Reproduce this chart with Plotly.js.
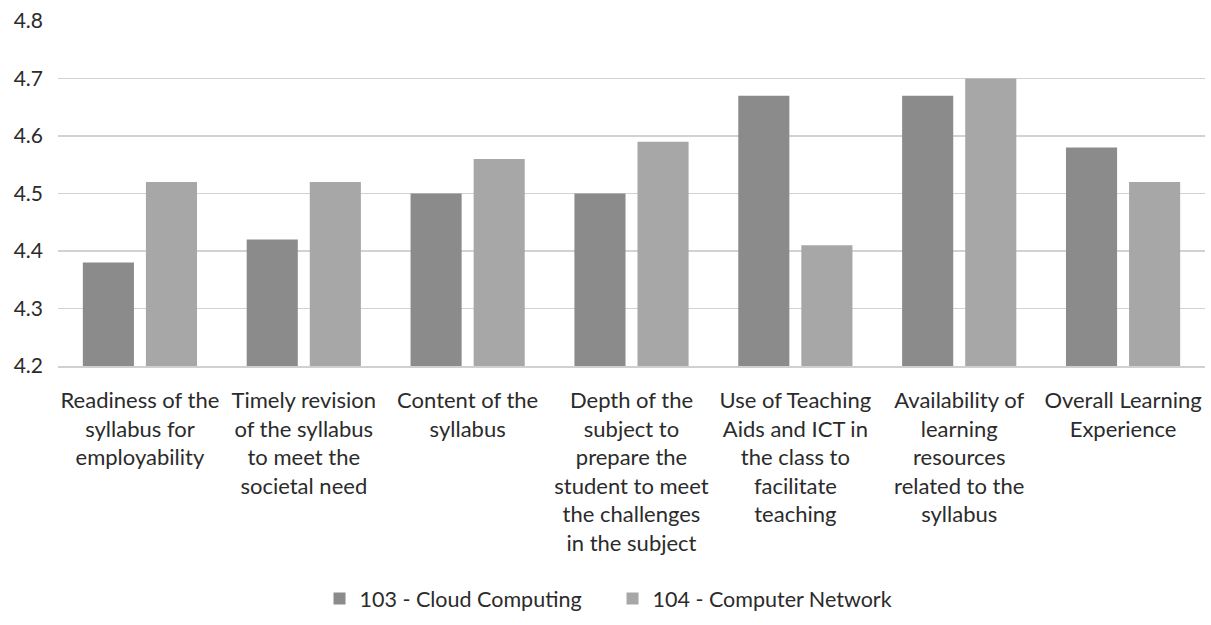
<!DOCTYPE html>
<html>
<head>
<meta charset="utf-8">
<script src="https://cdn.plot.ly/plotly-3.0.1.min.js"></script>
<style>html,body{margin:0;padding:0;background:#fff;}#chart{width:1211px;height:625px;}</style>
</head>
<body>
<div id="chart"></div>
<script>
const categories = [
  "Readiness of the<br>syllabus for<br>employability",
  "Timely revision<br>of the syllabus<br>to meet the<br>societal need",
  "Content of the<br>syllabus",
  "Depth of the<br>subject to<br>prepare the<br>student to meet<br>the challenges<br>in the subject",
  "Use of Teaching<br>Aids and ICT in<br>the class to<br>facilitate<br>teaching",
  "Availability of<br>learning<br>resources<br>related to the<br>syllabus",
  "Overall Learning<br>Experience"
];
const seriesNames = ["103 - Cloud Computing", "104 - Computer Network"];
const cloudComputing = [4.38, 4.42, 4.50, 4.50, 4.67, 4.67, 4.58];
const computerNetwork = [4.52, 4.52, 4.56, 4.59, 4.41, 4.70, 4.52];
const yTicks = [4.2, 4.3, 4.4, 4.5, 4.6, 4.7, 4.8];

const font = "Lato, 'Open Sans', sans-serif";
const traces = [
  {type: "bar", name: seriesNames[0], x: categories, y: cloudComputing, marker: {color: "#8b8b8b"}},
  {type: "bar", name: seriesNames[1], x: categories, y: computerNetwork, marker: {color: "#a7a7a7"}}
];
const layout = {
  width: 1211, height: 625,
  margin: {l: 58, r: 6, t: 21, b: 240},
  paper_bgcolor: "#ffffff", plot_bgcolor: "#ffffff",
  barmode: "group", bargap: 0.23, bargroupgap: 0.19,
  font: {family: font, color: "#2b2b2b", size: 21},
  xaxis: {
    tickfont: {family: font, size: 22, color: "#2b2b2b"},
    showgrid: false, showline: true, linecolor: "#d0d0d0", linewidth: 1.5,
    ticks: "", automargin: false, tickangle: 0, ticklabelstandoff: 14
  },
  yaxis: {
    range: [4.2, 4.8], tickvals: yTicks, tickformat: ".1f",
    tickfont: {family: font, size: 21, color: "#2b2b2b"},
    gridcolor: "#d2d2d2", gridwidth: 1.5, zeroline: false, showline: false,
    ticks: "", automargin: false, ticklabelstandoff: 14
  },
  showlegend: true,
  legend: {
    orientation: "h", x: 0.228, xanchor: "left", y: -0.674, yanchor: "middle",
    font: {family: font, size: 21.5, color: "#2b2b2b"}, itemwidth: 30,
    entrywidth: 248, entrywidthmode: "pixels"
  }
};
Plotly.newPlot("chart", traces, layout, {displayModeBar: false, staticPlot: true});
</script>
</body>
</html>
